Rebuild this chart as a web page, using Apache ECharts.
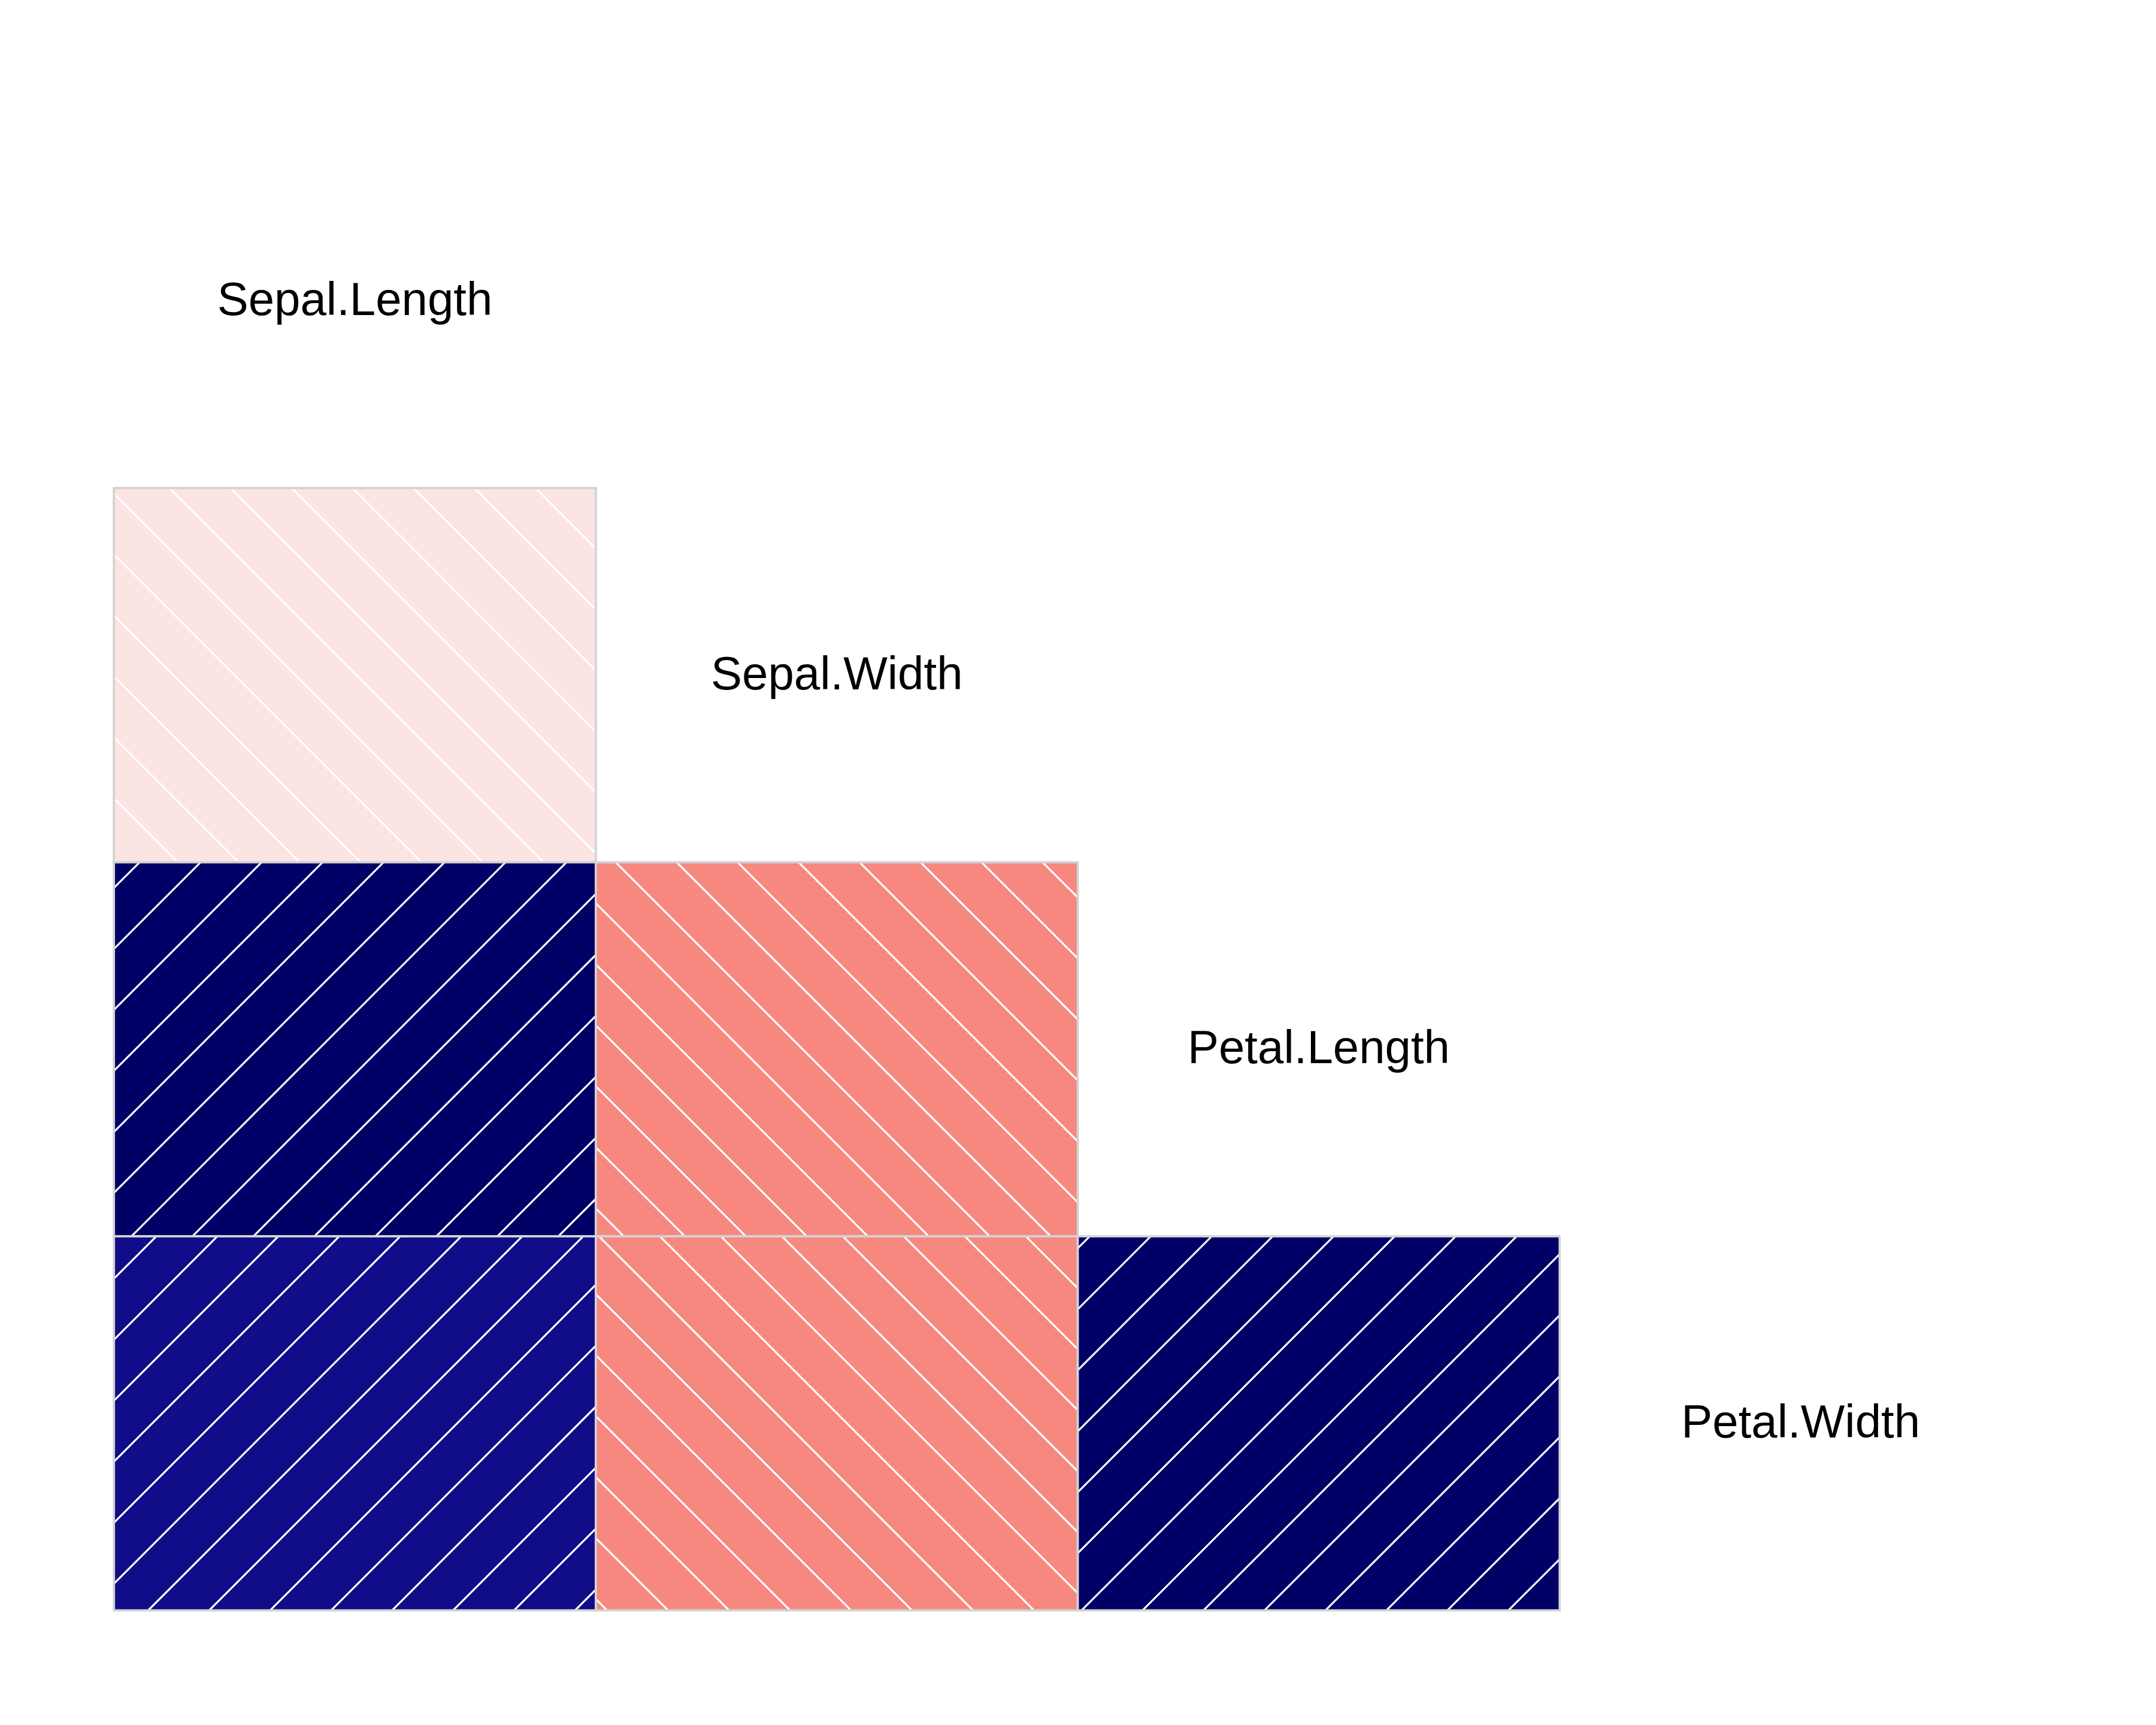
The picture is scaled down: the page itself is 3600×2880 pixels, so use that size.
<!DOCTYPE html>
<html>
<head>
<meta charset="utf-8">
<title>corrgram iris</title>
<script src="https://cdn.jsdelivr.net/npm/echarts@6/dist/echarts.min.js"></script>
<style>
  html, body { margin: 0; padding: 0; background: #fff; }
  #chart { width: 3600px; height: 2880px; }
</style>
</head>
<body>
<div id="chart"></div>
<script>
// variables on the diagonal, with their data ranges (used for the panel scales)
var vars = ['Sepal.Length', 'Sepal.Width', 'Petal.Length', 'Petal.Width'];
var varMin = [4.3, 2.0, 1.0, 0.1];
var varMax = [7.9, 4.4, 6.9, 2.5];

// lower panels: column (x variable), row (y variable), correlation
var lowerCol = [0, 0, 1, 0, 1, 2];
var lowerRow = [1, 2, 2, 3, 3, 3];
var corrValues = [-0.118, 0.872, -0.428, 0.818, -0.366, 0.963];
var shadeColors = ['#FCE4E3', '#000066', '#F7887F', '#110D89', '#F7887F', '#000066'];

var hatchGap = 72;          // distance between hatch lines (density 5 per inch)
var shiftPx = hatchGap * Math.SQRT2;

function ext(k) {
  var d = (varMax[k] - varMin[k]) * 0.04;
  return [varMin[k] - d, varMax[k] + d];
}

function renderShade(params, api) {
  var j = api.value(0), i = api.value(1), r = api.value(2);
  var c = api.coord([j, i]);
  var s = api.size([1, 1]);
  var L = c[0] - s[0] / 2, T = c[1] - s[1] / 2;
  var R = L + s[0], B = T + s[1];
  var ex = ext(j), ey = ext(i);
  var ppx = s[0] / (ex[1] - ex[0]);
  var ppy = s[1] / (ey[1] - ey[0]);
  // pixel position of user (0,0); hatch lines go through (k*shift, 0)
  var X0 = L - ex[0] * ppx;
  var Y0 = B + ey[0] * ppy;
  var kids = [{
    type: 'rect',
    shape: { x: L, y: T, width: s[0], height: s[1] },
    style: { fill: shadeColors[params.dataIndex] }
  }];
  var k, k0, k1, cc, xa, xb;
  if (r > 0) {
    // lines x + y = cc
    k0 = Math.ceil((L + T - X0 - Y0) / shiftPx);
    k1 = Math.floor((R + B - X0 - Y0) / shiftPx);
    for (k = k0; k <= k1; k++) {
      cc = X0 + Y0 + k * shiftPx;
      xa = Math.max(L, cc - B); xb = Math.min(R, cc - T);
      if (xb > xa) {
        kids.push({ type: 'line', shape: { x1: xa, y1: cc - xa, x2: xb, y2: cc - xb },
          style: { stroke: '#ffffff', lineWidth: 3.2 } });
      }
    }
  } else {
    // lines x - y = cc
    k0 = Math.ceil((L - B - X0 + Y0) / shiftPx);
    k1 = Math.floor((R - T - X0 + Y0) / shiftPx);
    for (k = k0; k <= k1; k++) {
      cc = X0 - Y0 + k * shiftPx;
      xa = Math.max(L, cc + T); xb = Math.min(R, cc + B);
      if (xb > xa) {
        kids.push({ type: 'line', shape: { x1: xa, y1: xa - cc, x2: xb, y2: xb - cc },
          style: { stroke: '#ffffff', lineWidth: 3.2 } });
      }
    }
  }
  kids.push({
    type: 'rect',
    shape: { x: L, y: T, width: s[0], height: s[1] },
    style: { fill: null, stroke: '#D3D3D3', lineWidth: 3.75 }
  });
  return { type: 'group', children: kids };
}

function renderLabel(params, api) {
  var c = api.coord([api.value(0), api.value(1)]);
  return {
    type: 'text',
    x: c[0], y: c[1] + 2,
    style: {
      text: vars[params.dataIndex],
      fontSize: 78,
      fontFamily: 'Liberation Sans, Arial, sans-serif',
      fill: '#000000',
      align: 'center',
      verticalAlign: 'middle'
    }
  };
}

var shadeData = lowerCol.map(function (c, k) { return [c, lowerRow[k], corrValues[k]]; });
var diagData = vars.map(function (v, k) { return [k, k]; });

var myChart = echarts.init(document.getElementById('chart'));
var option = {
  animation: false,
  backgroundColor: '#ffffff',
  grid: { left: 190.2, right: 191, top: 190.4, bottom: 191.3 },
  xAxis: { type: 'category', data: vars, show: false },
  yAxis: { type: 'category', data: vars, inverse: true, show: false },
  series: [
    { type: 'custom', renderItem: renderShade, data: shadeData, encode: { x: 0, y: 1 } },
    { type: 'custom', renderItem: renderLabel, data: diagData, encode: { x: 0, y: 1 } }
  ]
};
myChart.setOption(option);
</script>
</body>
</html>
